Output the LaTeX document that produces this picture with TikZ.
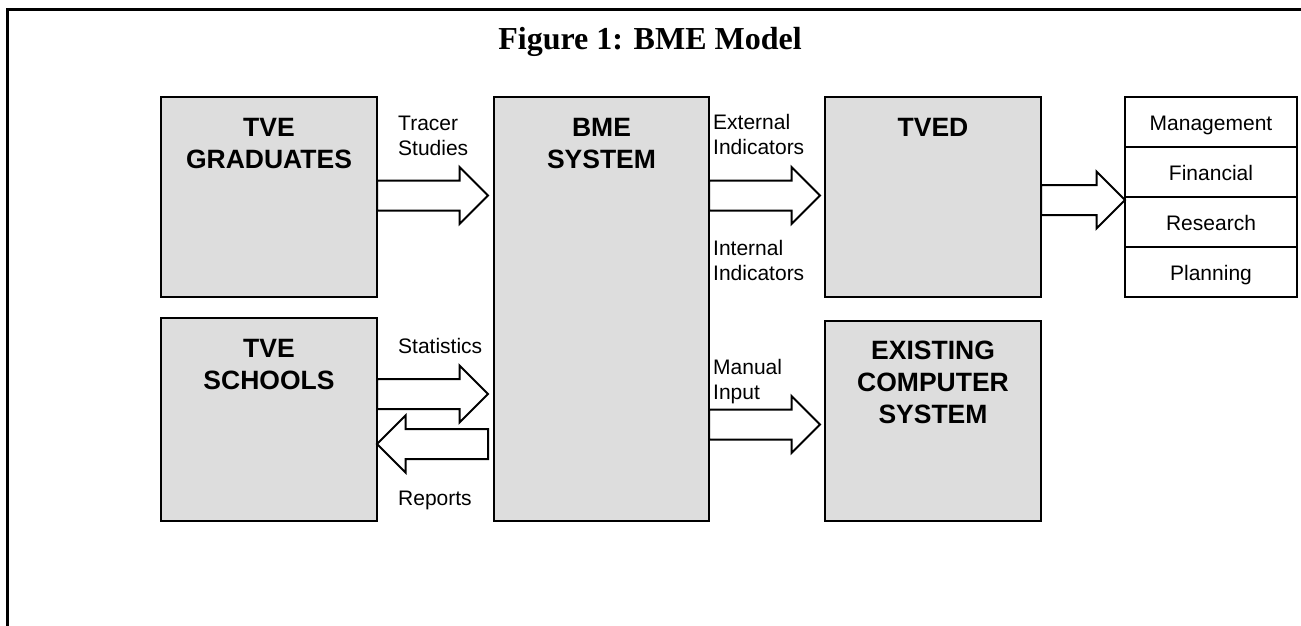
\documentclass[tikz,border=0pt]{standalone}
\usepackage{fontspec}
\setmainfont{Liberation Sans}
\newfontfamily\titlefont{Liberation Serif}
\usetikzlibrary{shapes.arrows,calc}
\definecolor{boxgray}{RGB}{221,221,221}
\begin{document}
\begin{tikzpicture}[x=1pt,y=1pt,
  bigbox/.style={draw, line width=2pt, fill=boxgray, anchor=north west, inner sep=0pt, outer sep=0pt, minimum width=216pt},
  boxtxt/.style={font=\fontsize{26.5}{32}\selectfont\bfseries, align=center, anchor=base, inner sep=0pt},
  lbl/.style={font=\fontsize{21}{25.5}\selectfont, align=left, anchor=base west, inner sep=0pt},
  rowbox/.style={draw, line width=2pt, fill=white, anchor=north west, inner sep=0pt, outer sep=0pt,
     minimum width=172pt, minimum height=50pt, text height=16pt, text depth=0pt, font=\fontsize{21}{25}\selectfont},
  barrow/.style={single arrow, draw, line width=2pt, fill=white, inner xsep=0pt, inner ysep=14pt, outer sep=0pt,
     minimum width=55pt, single arrow head extend=13.5pt, single arrow tip angle=90, anchor=tail}]
\useasboundingbox (0,0) rectangle (1301,-626);
% outer frame
\draw[line width=3pt] (7.5,-626) -- (7.5,-9.3) -- (1301,-9.3);
% title
\node[font=\titlefont\fontsize{32}{36}\selectfont\bfseries, anchor=base, inner sep=0pt] (title) at (650,-50) {Figure 1: BME Model};
% boxes
\node[bigbox, minimum height=200pt] (grad) at (161,-97) {};
\node[bigbox, minimum height=203pt] (schools) at (161,-318) {};
\node[bigbox, minimum width=215pt, minimum height=424pt] (bme) at (494,-97) {};
\node[bigbox, minimum height=200pt] (tved) at (825,-97) {};
\node[bigbox, minimum height=200pt] (exist) at (825,-321) {};
% box texts (base = baseline of last line)
\node[boxtxt] (gradt) at ($(grad.north)+(0,-71)$) {TVE\\GRADUATES};
\node[boxtxt] (schoolst) at ($(schools.north)+(0,-71)$) {TVE\\SCHOOLS};
\node[boxtxt] (bmet) at ($(bme.north)+(0,-71)$) {BME\\SYSTEM};
\node[boxtxt] (tvedt) at ($(tved.north)+(0,-39)$) {TVED};
\node[boxtxt] (existt) at ($(exist.north)+(0,-102)$) {EXISTING\\COMPUTER\\SYSTEM};
% list
\node[rowbox] (mgmt) at (1125,-97) {Management};
\node[rowbox] (fin) at (mgmt.south west) {Financial};
\node[rowbox] (res) at (fin.south west) {Research};
\node[rowbox] (plan) at (res.south west) {Planning};
% block arrows
\node[barrow, minimum height=111pt] (tracer) at (grad.east |- 0,-195.5) {};
\node[barrow, minimum height=111pt] (stats) at (schools.east |- 0,-394) {};
\node[barrow, minimum height=111pt, shape border rotate=180] (reports) at ($(bme.west |- 0,-444)+(-6,0)$) {};
\node[barrow, minimum height=111pt] (ext) at (bme.east |- 0,-195.5) {};
\node[barrow, minimum height=111pt] (manual) at (bme.east |- 0,-424.5) {};
\node[barrow, minimum height=84pt] (toList) at (tved.east |- 0,-200) {};
% labels (base = baseline of last line)
\node[lbl] (tracerl) at (398,-155.5) {Tracer\\Studies};
\node[lbl] (statsl) at (398,-353) {Statistics};
\node[lbl] (reportsl) at (398,-505) {Reports};
\node[lbl] (extl) at (713,-154.5) {External\\Indicators};
\node[lbl] (intl) at (713,-280.5) {Internal\\Indicators};
\node[lbl] (manl) at (713,-399.5) {Manual\\Input};
\end{tikzpicture}
\end{document}
